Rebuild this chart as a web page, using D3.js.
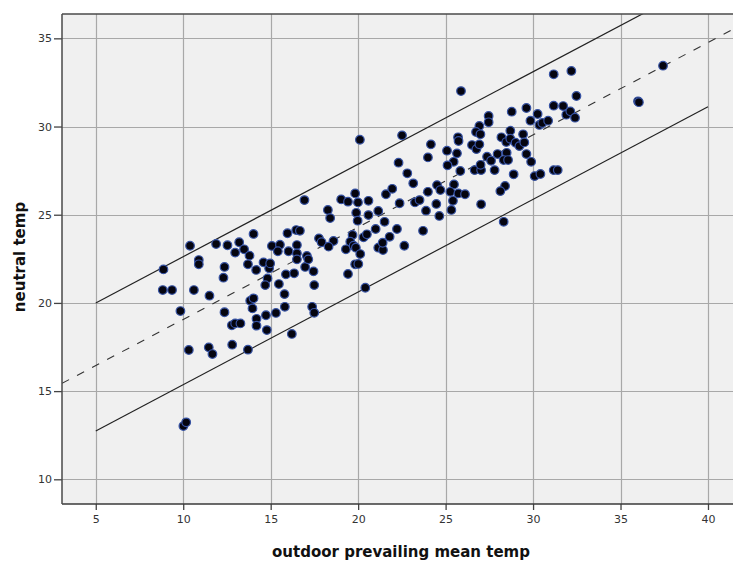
<!DOCTYPE html>
<html>
<head>
<meta charset="utf-8">
<script src="https://cdn.jsdelivr.net/npm/d3@7"></script>
<style>
  html, body { margin: 0; padding: 0; background: #fff; }
  svg { display: block; }
</style>
</head>
<body>
<svg id="chart" width="733" height="563"></svg>
<script>
// ---- data ----
const xTicks = [5, 10, 15, 20, 25, 30, 35, 40];
const yTicks = [10, 15, 20, 25, 30, 35];
const xTitle = "outdoor prevailing mean temp";
const yTitle = "neutral temp";

const outdoorTemp = [
  8.87,8.83,9.36,10.39,10.89,10.89,10.61,9.84,10.32,11.46,11.67,11.50,11.88,12.53,12.97,13.20,13.48,13.79,14.02,12.36,
  12.30,12.36,12.78,12.97,13.27,12.80,13.70,13.70,14.17,14.59,14.91,14.97,14.82,14.69,13.83,14.02,13.96,14.19,14.19,14.73,
  14.78,15.30,15.81,15.79,15.47,15.87,16.34,16.21,15.07,15.53,15.41,15.96,16.46,16.67,16.02,16.50,16.50,16.50,10.01,10.17,16.97,
  16.93,17.07,17.15,17.45,17.49,17.37,17.49,18.27,18.40,17.76,17.91,18.59,18.31,19.03,19.42,19.83,19.99,20.59,19.89,19.97,
  20.59,21.15,19.68,19.55,19.30,19.74,19.87,20.12,19.83,20.01,19.42,20.41,20.31,20.50,21.00,21.51,21.15,21.42,21.40,21.80,
  22.22,22.64,21.59,21.95,22.31,22.81,23.15,22.37,23.25,23.51,23.88,23.71,23.99,24.51,24.70,24.47,24.64,23.99,20.10,22.51,24.16,
  25.88,27.46,27.46,26.93,26.74,26.99,25.71,25.74,26.51,26.76,26.93,25.08,25.65,25.46,25.11,25.84,26.66,27.03,27.00,27.37,
  27.60,27.80,27.97,28.49,28.32,28.57,28.19,28.47,28.70,28.70,29.00,29.22,29.43,29.50,29.62,29.89,28.78,29.62,29.85,30.26,
  30.36,30.53,30.86,28.89,30.09,30.42,31.18,31.41,31.18,28.40,28.13,27.03,28.32,25.48,25.27,25.73,26.11,25.42,25.33,32.19,
  31.18,32.48,31.72,31.90,32.13,32.40,36.00,36.05,37.43
];
const neutralTemp = [
  21.90,20.73,20.73,23.24,22.43,22.19,20.73,19.54,17.33,17.48,17.10,20.41,23.34,23.27,22.85,23.44,23.04,22.68,23.91,22.04,
  21.43,19.47,18.73,18.84,18.84,17.63,17.35,22.19,21.87,22.30,21.96,22.24,21.39,21.01,20.12,20.26,19.69,19.10,18.71,19.30,
  18.46,19.43,19.78,20.50,21.07,21.62,21.68,18.24,23.23,23.30,22.93,23.95,24.13,24.09,22.93,23.28,22.81,22.47,13.02,13.23,22.04,
  25.83,22.66,22.47,21.79,21.01,19.78,19.44,25.27,24.81,23.66,23.44,23.51,23.19,25.87,25.74,26.21,25.70,25.79,25.11,24.66,
  24.98,25.21,23.85,23.47,23.04,23.24,23.13,22.77,22.19,22.21,21.64,20.86,23.72,23.89,24.19,24.60,23.13,23.00,23.41,23.75,
  24.19,23.24,26.16,26.47,27.95,27.35,26.78,25.65,25.70,25.83,25.23,24.09,26.30,26.68,26.40,25.61,24.93,28.25,29.25,29.50,28.99,
  32.01,30.60,30.24,30.03,29.69,29.56,29.39,29.18,28.95,28.72,28.99,28.63,28.48,28.00,27.80,27.48,27.53,27.53,27.83,28.29,
  28.06,27.53,28.44,28.51,28.10,28.10,29.39,29.12,29.76,29.31,29.08,28.89,29.56,29.10,28.44,28.00,30.84,31.05,30.33,30.71,
  30.09,30.20,30.33,27.29,27.19,27.31,27.53,27.53,31.18,26.63,26.34,25.59,24.60,26.72,26.30,26.21,26.16,25.79,25.27,33.15,
  32.96,31.73,31.16,30.67,30.86,30.50,31.43,31.38,33.45
];

// reference lines (end points)
const bandX = [5, 40];
const upperY = [20.0, 38.35];
const lowerY = [12.74, 31.12];
const centerX = [3.07, 41.43];
const centerY = [15.44, 35.51];

// ---- layout ----
const svg = d3.select("#chart");
const L = 62, R = 733, T = 14, B = 504;

const x = d3.scaleLinear().domain([3.07, 41.43]).range([L, R]);
const y = d3.scaleLinear().domain([8.6, 36.38]).range([B, T]);

svg.append("defs").append("clipPath").attr("id", "plotclip")
  .append("rect").attr("x", L).attr("y", T).attr("width", R - L).attr("height", B - T);

svg.append("rect").attr("x", L).attr("y", T).attr("width", R - L).attr("height", B - T)
  .attr("fill", "#f0f0f0");

// grid
const grid = svg.append("g");
grid.selectAll("line.v").data(xTicks).enter().append("line")
  .attr("x1", d => Math.round(x(d)) + 0.5).attr("x2", d => Math.round(x(d)) + 0.5)
  .attr("y1", T).attr("y2", B)
  .attr("stroke", "#a8a8a8").attr("stroke-width", 1.2);
grid.selectAll("line.h").data(yTicks).enter().append("line")
  .attr("y1", d => Math.round(y(d)) + 0.5).attr("y2", d => Math.round(y(d)) + 0.5)
  .attr("x1", L).attr("x2", R)
  .attr("stroke", "#a8a8a8").attr("stroke-width", 1.2);

const plot = svg.append("g").attr("clip-path", "url(#plotclip)");
const line = d3.line().x(d => x(d[0])).y(d => y(d[1]));

plot.append("path").datum(d3.zip(bandX, upperY)).attr("d", line)
  .attr("fill", "none").attr("stroke", "#222").attr("stroke-width", 1.2);
plot.append("path").datum(d3.zip(bandX, lowerY)).attr("d", line)
  .attr("fill", "none").attr("stroke", "#222").attr("stroke-width", 1.2);
plot.append("path").datum(d3.zip(centerX, centerY)).attr("d", line)
  .attr("fill", "none").attr("stroke", "#333").attr("stroke-width", 1.1)
  .attr("stroke-dasharray", "8,9");

// points
const pts = d3.zip(outdoorTemp, neutralTemp);
plot.selectAll("circle").data(pts).enter().append("circle")
  .attr("cx", d => x(d[0])).attr("cy", d => y(d[1]))
  .attr("r", 4.3)
  .attr("fill", "#050510")
  .attr("stroke", "#3652a3").attr("stroke-width", 1.2);

// axes
const xAxis = d3.axisBottom(x).tickValues(xTicks).tickSize(6).tickPadding(5).tickFormat(d3.format("d"));
const yAxis = d3.axisLeft(y).tickValues(yTicks).tickSize(8).tickPadding(2).tickFormat(d3.format("d"));

const gx = svg.append("g").attr("transform", `translate(0,${B})`).call(xAxis);
const gy = svg.append("g").attr("transform", `translate(${L},0)`).call(yAxis);
[gx, gy].forEach(g => {
  g.select(".domain").remove();
  g.selectAll(".tick line").attr("stroke", "#444").attr("stroke-width", 1.3);
  g.selectAll(".tick text").attr("fill", "#333")
    .style("font-family", "'DejaVu Sans', sans-serif").style("font-size", "11px");
});

// frame
svg.append("line").attr("x1", L).attr("x2", R).attr("y1", T).attr("y2", T)
  .attr("stroke", "#4a4a4a").attr("stroke-width", 1.5);
svg.append("line").attr("x1", L).attr("x2", R).attr("y1", B).attr("y2", B)
  .attr("stroke", "#3a3a3a").attr("stroke-width", 1.5);
svg.append("line").attr("x1", L).attr("x2", L).attr("y1", T).attr("y2", B)
  .attr("stroke", "#4a4a4a").attr("stroke-width", 1.5);

// titles
svg.append("text").attr("x", 401).attr("y", 557).attr("text-anchor", "middle")
  .style("font-family", "'DejaVu Sans', sans-serif").style("font-size", "15px")
  .style("font-weight", "bold").attr("fill", "#111").text(xTitle);
svg.append("text").attr("transform", "translate(25,257) rotate(-90)").attr("text-anchor", "middle")
  .style("font-family", "'DejaVu Sans', sans-serif").style("font-size", "15px")
  .style("font-weight", "bold").attr("fill", "#111").text(yTitle);
</script>
</body>
</html>
